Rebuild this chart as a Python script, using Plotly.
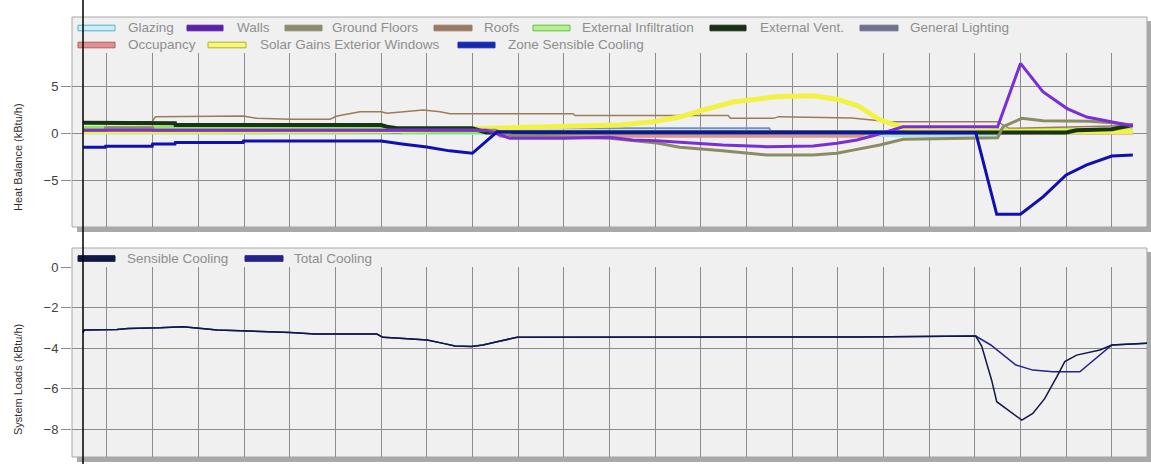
import plotly.graph_objects as go

# ---------------- data (hours of day, kBtu/h) ----------------
glazing_h = [0.48, 15.5, 18.4, 20.5, 20.6, 23.46]
glazing_v = [0.0, -0.1, -0.3, -0.3, 0.0, 0.0]

walls_h = [0.48, 9.3, 9.82, 11.0, 12.0, 12.51, 13.04, 13.54, 13.98, 14.48, 15.45, 16.46,
           16.98, 17.42, 17.77, 18.14, 18.43, 20.5, 21.0, 21.49, 22.02, 22.45, 22.96, 23.46]
walls_v = [0.3, 0.3, -0.57, -0.57, -0.46, -0.74, -0.82, -1.0, -1.1, -1.28, -1.45, -1.38,
           -1.1, -0.74, -0.3, 0.2, 0.67, 0.67, 7.4, 4.4, 2.6, 1.7, 1.2, 0.75]

ground_h = [0.48, 0.96, 0.97, 2.0, 2.01, 9.5, 9.9, 12.0, 13.04, 13.54, 14.48, 15.45, 16.46,
            16.98, 17.42, 17.92, 18.43, 20.5, 20.62, 21.03, 21.49, 22.5, 23.0, 23.46]
ground_v = [0.3, 0.3, 0.55, 0.55, 0.3, 0.3, -0.3, -0.57, -1.07, -1.52, -1.88, -2.34, -2.34,
            -2.16, -1.74, -1.28, -0.67, -0.5, 0.67, 1.56, 1.3, 1.25, 1.1, 0.85]

roofs_h = [0.48, 1.99, 2.06, 3.98, 4.28, 5.01, 5.88, 6.04, 6.54, 7.0, 7.13, 7.92, 8.29, 8.51,
           11.2, 11.25, 14.6, 14.65, 15.6, 15.7, 17.3, 17.86, 18.14, 20.5, 20.75, 23.46]
roofs_v = [1.2, 1.2, 1.74, 1.8, 1.56, 1.46, 1.46, 1.8, 2.27, 2.27, 2.1, 2.45, 2.27, 2.05,
           2.05, 1.85, 1.85, 1.56, 1.56, 1.74, 1.6, 1.3, 1.2, 1.2, 0.5, 0.8]

infil_h = [0.48, 7.0, 7.5, 20.0, 20.5, 23.46]
infil_v = [0.55, 0.55, 0.1, 0.1, 0.3, 0.3]

vent_h = [0.48, 1.99, 2.0, 2.49, 2.5, 7.0, 7.13, 7.35, 9.0, 9.3, 22.0, 22.23, 23.0, 23.46]
vent_v = [1.1, 1.1, 1.03, 1.03, 0.85, 0.85, 0.67, 0.5, 0.5, 0.05, 0.05, 0.3, 0.4, 0.85]

light_h = [0.48, 0.96, 0.97, 9.5, 9.55, 15.5, 15.55, 23.46]
light_v = [0.6, 0.6, 0.0, 0.0, 0.5, 0.5, 0.0, 0.0]

occ_h = [0.48, 7.0, 7.1, 9.5, 9.6, 17.5, 17.6, 23.46]
occ_v = [0.25, 0.25, 0.3, 0.3, -0.35, -0.35, 0.0, 0.0]

solar_h = [0.48, 7.0, 9.0, 11.0, 12.23, 12.95, 13.54, 13.98, 14.7, 15.67, 16.17, 16.46,
           16.98, 17.44, 17.92, 18.36, 18.8, 20.5, 23.46]
solar_v = [0.15, 0.2, 0.45, 0.65, 0.85, 1.2, 1.7, 2.35, 3.3, 3.87, 3.95, 3.95,
           3.6, 2.9, 1.4, 0.67, 0.2, 0.15, 0.15]

zsc_h = [0.48, 0.96, 0.97, 1.99, 2.0, 2.49, 2.5, 3.98, 3.99, 7.0, 7.46, 8.0, 8.5, 9.0, 9.54,
         12.0, 15.0, 18.0, 20.02, 20.48, 21.0, 21.5, 22.0, 22.45, 23.0, 23.46]
zsc_v = [-1.52, -1.52, -1.4, -1.4, -1.17, -1.17, -1.0, -1.0, -0.85, -0.85, -1.17, -1.5, -1.9,
         -2.16, 0.12, 0.1, 0.1, 0.05, 0.05, -8.65, -8.65, -6.77, -4.47, -3.4, -2.45, -2.34]

sens_h = [0.475, 0.5, 1.22, 1.46, 2.16, 2.66, 3.19, 3.41, 5.01, 5.55, 6.91, 7.04, 7.41, 8.01,
          8.36, 8.62, 8.98, 9.23, 9.54, 9.98, 17.5, 20.02, 20.15, 20.37, 20.48, 20.7, 21.03,
          21.27, 21.53, 21.8, 21.97, 22.23, 22.74, 23.0, 23.77]
sens_v = [-3.24, -3.11, -3.08, -3.03, -3.0, -2.95, -3.06, -3.11, -3.23, -3.31, -3.31, -3.47,
          -3.52, -3.6, -3.77, -3.9, -3.93, -3.85, -3.69, -3.47, -3.45, -3.41, -3.9, -5.6,
          -6.65, -7.0, -7.56, -7.23, -6.5, -5.4, -4.67, -4.35, -4.1, -3.85, -3.77]

total_h = [0.475, 0.5, 1.22, 1.46, 2.16, 2.66, 3.19, 3.41, 5.01, 5.55, 6.91, 7.04, 7.41, 8.01,
           8.36, 8.62, 8.98, 9.23, 9.54, 9.98, 17.5, 20.02, 20.35, 20.9, 21.27, 21.71, 22.3,
           22.6, 22.81, 23.0, 23.77]
total_v = [-3.24, -3.11, -3.08, -3.03, -3.0, -2.95, -3.06, -3.11, -3.23, -3.31, -3.31, -3.47,
           -3.52, -3.6, -3.77, -3.9, -3.93, -3.85, -3.69, -3.47, -3.45, -3.41, -3.85, -4.84,
           -5.09, -5.17, -5.17, -4.6, -4.2, -3.85, -3.77]

top_names = ["Glazing", "Walls", "Ground Floors", "Roofs", "External Infiltration",
             "External Vent.", "General Lighting", "Occupancy",
             "Solar Gains Exterior Windows", "Zone Sensible Cooling"]
bottom_names = ["Sensible Cooling", "Total Cooling"]
top_ticks = [-5, 0, 5]
bottom_ticks = [-8, -6, -4, -2, 0]
hour_grid = list(range(1, 24))

# ---------------- styling ----------------
W, H = 1151, 464
def px(x):
    return x / W
def py(y):
    return 1 - y / H

top_series = [(glazing_h, glazing_v), (walls_h, walls_v), (ground_h, ground_v),
              (roofs_h, roofs_v), (infil_h, infil_v), (vent_h, vent_v),
              (light_h, light_v), (occ_h, occ_v), (solar_h, solar_v), (zsc_h, zsc_v)]
top_line_colors = ["#a8e4f0", "#7a2ed8", "#8c8c64", "#9c7a5a", "#90e850", "#153515",
                   "#7090c8", "#e09090", "#f2f245", "#1010b0"]
top_line_widths = [3, 3, 3, 1.5, 4, 4, 2, 3, 5, 3]
draw_order = [0, 7, 6, 4, 3, 8, 5, 2, 1, 9]

# legend swatch style: (fill, outline)
top_sw = [("#c8eef8", "#5ab0c8"), ("#5a20a8", "#5a20a8"), ("#8c8c70", "#8c8c70"),
          ("#9a7a64", "#9a7a64"), ("#b8f090", "#60c040"), ("#183018", "#183018"),
          ("#707090", "#707090"), ("#e09090", "#b06060"), ("#f8f878", "#b0b030"),
          ("#1428b0", "#1428b0")]
# (swatch x0, swatch x1, text x, row y)
top_leg_pos = [(78, 115, 126, 28), (187, 223, 235, 28), (285, 322, 330, 28),
               (434, 472, 482, 28), (533, 570, 580, 28), (710, 746, 758, 28),
               (860, 898, 908, 28), (78, 115, 126, 45), (208, 246, 258, 45),
               (458, 495, 506, 45)]
bot_colors = ["#101848", "#23238c"]
bot_leg_pos = [(78, 115, 125, 258.5), (245, 283, 292, 258.5)]

fig = go.Figure()
for i in draw_order:
    hx, vy = top_series[i]
    fig.add_trace(go.Scatter(x=hx, y=vy, mode="lines", name=top_names[i],
                             line=dict(color=top_line_colors[i], width=top_line_widths[i]),
                             showlegend=False, hoverinfo="skip", xaxis="x", yaxis="y"))
fig.add_trace(go.Scatter(x=total_h, y=total_v, mode="lines", name=bottom_names[1],
                         line=dict(color=bot_colors[1], width=1.5), showlegend=False,
                         hoverinfo="skip", xaxis="x2", yaxis="y2"))
fig.add_trace(go.Scatter(x=sens_h, y=sens_v, mode="lines", name=bottom_names[0],
                         line=dict(color=bot_colors[0], width=1.5), showlegend=False,
                         hoverinfo="skip", xaxis="x2", yaxis="y2"))

shapes = []
annos = []
# frames with shadows
for (y0, y1) in [(17, 227), (248, 457)]:
    shapes.append(dict(type="rect", xref="paper", yref="paper", layer="below",
                       x0=px(77), x1=px(1151), y0=py(y1 + 5), y1=py(y0 + 4),
                       fillcolor="#a9a9a9", line=dict(width=0)))
    shapes.append(dict(type="rect", xref="paper", yref="paper", layer="below",
                       x0=px(72), x1=px(1147), y0=py(y1), y1=py(y0),
                       fillcolor="#f0f0f0", line=dict(color="#a8a8a8", width=1)))

def add_legend_item(pos, fill, outline, name):
    sx0, sx1, tx, ry = pos
    shapes.append(dict(type="rect", xref="paper", yref="paper", layer="above",
                       x0=px(sx0), x1=px(sx1), y0=py(ry + 2.8), y1=py(ry - 2.8),
                       fillcolor=fill, line=dict(color=outline, width=1)))
    annos.append(dict(xref="paper", yref="paper", x=px(tx), y=py(ry), text=name,
                      showarrow=False, xanchor="left", yanchor="middle",
                      font=dict(family="Arial", size=13.5, color="#8e8e8e")))

for i, name in enumerate(top_names):
    add_legend_item(top_leg_pos[i], top_sw[i][0], top_sw[i][1], name)
for i, name in enumerate(bottom_names):
    add_legend_item(bot_leg_pos[i], bot_colors[i], bot_colors[i], name)

# cursor line
shapes.append(dict(type="line", xref="paper", yref="paper", layer="above",
                   x0=px(83), x1=px(83), y0=0, y1=1, line=dict(color="#000000", width=1.5)))

annos.append(dict(xref="paper", yref="paper", x=px(18), y=py(157), text="Heat Balance (kBtu/h)",
                  textangle=-90, showarrow=False, xanchor="center", yanchor="middle",
                  font=dict(family="Arial", size=11, color="#303030")))
annos.append(dict(xref="paper", yref="paper", x=px(18), y=py(380), text="System Loads (kBtu/h)",
                  textangle=-90, showarrow=False, xanchor="center", yanchor="middle",
                  font=dict(family="Arial", size=11, color="#303030")))

xcommon = dict(range=[0.234, 23.77], tickvals=hour_grid, showticklabels=False, ticks="",
               showgrid=True, gridcolor="#8c8c8c", gridwidth=1, zeroline=False,
               showline=False, automargin=False, fixedrange=True)
ycommon = dict(ticks="outside", ticklen=10, tickcolor="#8c8c8c", tickwidth=1,
               showgrid=True, gridcolor="#8c8c8c", gridwidth=1, zeroline=False,
               showline=False, automargin=False, fixedrange=True,
               tickfont=dict(family="Arial", size=13, color="#404040"))

fig.update_layout(
    width=W, height=H, autosize=False,
    margin=dict(l=0, r=0, t=0, b=0),
    paper_bgcolor="#ffffff", plot_bgcolor="rgba(0,0,0,0)",
    showlegend=False,
    xaxis=dict(domain=[px(72), px(1147)], anchor="y", **xcommon),
    yaxis=dict(domain=[py(227), py(53)], anchor="x", range=[-10, 8.51],
               tickvals=top_ticks, **ycommon),
    xaxis2=dict(domain=[px(72), px(1147)], anchor="y2", **xcommon),
    yaxis2=dict(domain=[py(457), py(267)], anchor="x2", range=[-9.38, 0],
                tickvals=bottom_ticks, **ycommon),
    shapes=shapes, annotations=annos,
)

fig.write_html("out.html", config={"displayModeBar": False},
               post_script="document.body.style.margin='0';document.body.style.overflow='hidden';")
